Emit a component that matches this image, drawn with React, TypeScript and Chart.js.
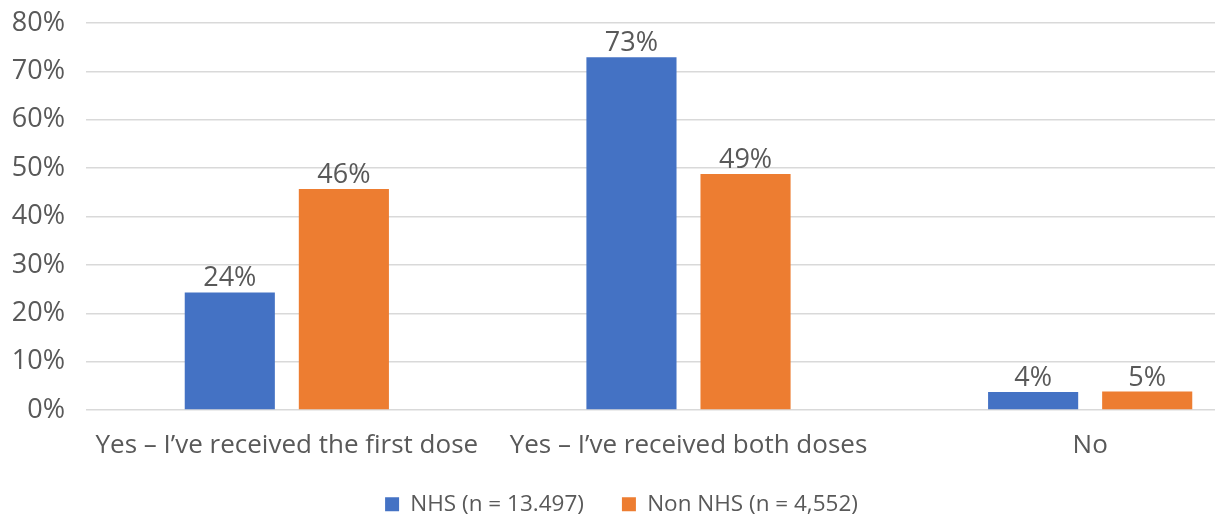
import React, { useEffect, useRef } from "react";
import { Chart, registerables } from "chart.js";

Chart.register(...registerables);

const categories = ["Yes – I’ve received the first dose", "Yes – I’ve received both doses", "No"];
const nhsValues = [24.3, 72.9, 3.7];
const nonNhsValues = [45.7, 48.8, 3.8];
const nhsLabels = ["24%", "73%", "4%"];
const nonNhsLabels = ["46%", "49%", "5%"];
const yTicks = [0, 10, 20, 30, 40, 50, 60, 70, 80];
const seriesNames = ["NHS (n = 13.497)", "Non NHS (n = 4,552)"];

const FONT = "'Open Sans', sans-serif";
const TEXT = "#595959";

const labelPlugin = {
  id: "barLabels",
  afterDatasetsDraw(chart: any) {
    const ctx = chart.ctx;
    const sets = [nhsLabels, nonNhsLabels];
    ctx.save();
    ctx.font = `27px ${FONT}`;
    ctx.fillStyle = TEXT;
    ctx.textAlign = "center";
    ctx.textBaseline = "alphabetic";
    chart.data.datasets.forEach((_: any, di: number) => {
      const meta = chart.getDatasetMeta(di);
      meta.data.forEach((el: any, i: number) => {
        ctx.fillText(sets[di][i], el.x, el.y - 6);
      });
    });
    ctx.restore();
  },
};

const legendPlugin = {
  id: "legendTweak",
  beforeInit(chart: any) {
    const legend = chart.legend;
    if (!legend) return;
    const orig = legend.fit.bind(legend);
    legend.fit = function () {
      orig();
      this.height = 61;
    };
  },
  afterLayout(chart: any) {
    const l = chart.legend;
    if (!l) return;
    const shift = 621.5 - (l.left + l.right) / 2;
    l.left += shift;
    l.right += shift;
  },
};

export default function App() {
  const ref = useRef<HTMLCanvasElement>(null);
  useEffect(() => {
    if (!ref.current) return;
    const chart = new Chart(ref.current, {
      type: "bar",
      data: {
        labels: categories,
        datasets: [
          { label: seriesNames[0], data: nhsValues, backgroundColor: "#4472C4" },
          { label: seriesNames[1], data: nonNhsValues, backgroundColor: "#ED7D31" },
        ],
      },
      options: {
        animation: false,
        responsive: false,
        maintainAspectRatio: false,
        layout: { padding: { top: 23, left: 0, right: 0, bottom: 0 } },
        datasets: { bar: { categoryPercentage: 0.568, barPercentage: 0.79 } },
        plugins: {
          tooltip: { enabled: false },
          legend: {
            position: "bottom",
            labels: {
              font: { family: FONT, size: 22.5 },
              color: TEXT,
              boxWidth: 14,
              boxHeight: 14,
              padding: 38,
            },
          },
        },
        scales: {
          x: {
            clip: false,
            afterFit: (s: any) => { s.height = 45; },
            grid: { display: false, drawTicks: false },
            border: { display: false },
            ticks: { font: { family: FONT, size: 26 }, color: TEXT, padding: 20, maxRotation: 0, autoSkip: false },
          },
          y: {
            min: 0,
            max: 80,
            afterFit: (s: any) => { s.width = 86; s.paddingTop = 0; s.paddingBottom = 0; },
            afterBuildTicks: (s: any) => { s.ticks = yTicks.map((v) => ({ value: v })); },
            grid: { color: "#D9D9D9", lineWidth: 1.5, drawTicks: false },
            border: { display: false },
            ticks: {
              font: { family: FONT, size: 27 },
              color: TEXT,
              padding: 21,
              callback: (v: any) => `${v}%`,
            },
          },
        },
      },
      plugins: [labelPlugin, legendPlugin],
    });
    return () => chart.destroy();
  }, []);
  return (
    <div style={{ position: "absolute", left: 0, top: 0, width: 1215, height: 516, overflow: "hidden", background: "#fff" }}>
      <canvas ref={ref} width={1291} height={516} style={{ width: 1291, height: 516 }} />
    </div>
  );
}
